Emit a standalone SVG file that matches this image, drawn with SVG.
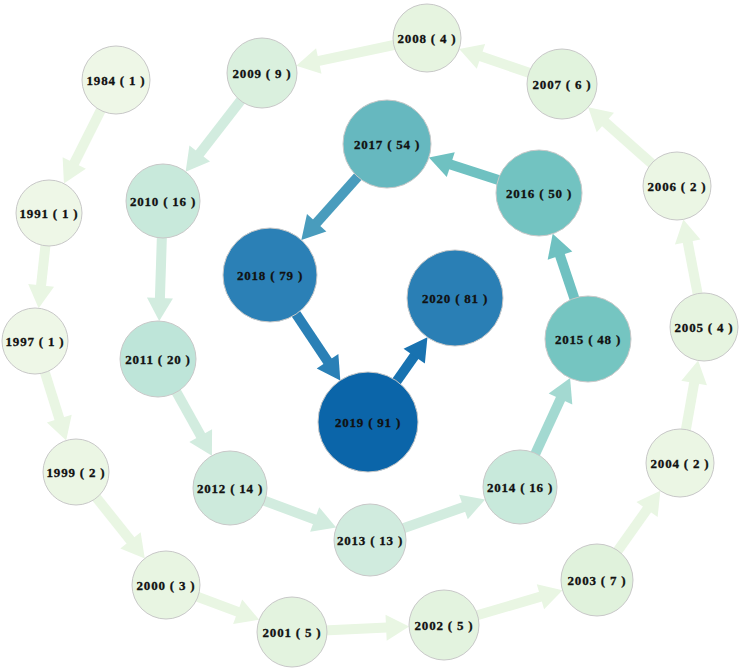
<svg xmlns="http://www.w3.org/2000/svg" width="743" height="670" viewBox="0 0 743 670">
<style>
.n circle{stroke:#c8c8c8;stroke-width:1}
.n text{font-family:"Liberation Serif","DejaVu Serif",serif;font-weight:bold;font-size:13px;letter-spacing:0.8px;text-anchor:middle;fill:#111;stroke:#111;stroke-width:0.3}
.e{fill:none;stroke-width:10}
.c1{stroke:#e9f6e3}.c2{stroke:#d2ecdf}.c3{stroke:#a3d9d1}.c4{stroke:#6fc1c1}.c5{stroke:#499cbd}.c6{stroke:#2a80b6}.c7{stroke:#1872b0}
</style>
<defs>
<marker id="m1" markerUnits="userSpaceOnUse" markerWidth="24" markerHeight="28" refX="1" refY="13" orient="auto" overflow="visible"><path d="M0,0 L23,13 L0,26 z" fill="#e9f6e3"/></marker>
<marker id="m2" markerUnits="userSpaceOnUse" markerWidth="24" markerHeight="28" refX="1" refY="13" orient="auto" overflow="visible"><path d="M0,0 L23,13 L0,26 z" fill="#d2ecdf"/></marker>
<marker id="m3" markerUnits="userSpaceOnUse" markerWidth="24" markerHeight="28" refX="1" refY="13" orient="auto" overflow="visible"><path d="M0,0 L23,13 L0,26 z" fill="#a3d9d1"/></marker>
<marker id="m4" markerUnits="userSpaceOnUse" markerWidth="24" markerHeight="28" refX="1" refY="13" orient="auto" overflow="visible"><path d="M0,0 L23,13 L0,26 z" fill="#6fc1c1"/></marker>
<marker id="m5" markerUnits="userSpaceOnUse" markerWidth="24" markerHeight="28" refX="1" refY="13" orient="auto" overflow="visible"><path d="M0,0 L23,13 L0,26 z" fill="#499cbd"/></marker>
<marker id="m6" markerUnits="userSpaceOnUse" markerWidth="24" markerHeight="28" refX="1" refY="13" orient="auto" overflow="visible"><path d="M0,0 L23,13 L0,26 z" fill="#2a80b6"/></marker>
<marker id="m7" markerUnits="userSpaceOnUse" markerWidth="24" markerHeight="28" refX="1" refY="13" orient="auto" overflow="visible"><path d="M0,0 L23,13 L0,26 z" fill="#1872b0"/></marker>
</defs>
<rect width="743" height="670" fill="#fff"/>
<g id="connectors">
<path class="e c1" marker-end="url(#m1)" d="M116,80 L73.8,163.9"/>
<path class="e c1" marker-end="url(#m1)" d="M49,213 L41,286.3"/>
<path class="e c1" marker-end="url(#m1)" d="M35,341 L59.6,419.5"/>
<path class="e c1" marker-end="url(#m1)" d="M76,472 L131.1,541.2"/>
<path class="e c1" marker-end="url(#m1)" d="M166,585 L238.6,612.1"/>
<path class="e c1" marker-end="url(#m1)" d="M292,632 L387.1,627.6"/>
<path class="e c1" marker-end="url(#m1)" d="M444,625 L541.4,596.4"/>
<path class="e c1" marker-end="url(#m1)" d="M597,580 L647.6,508.7"/>
<path class="e c1" marker-end="url(#m1)" d="M680,463 L694.3,382.1"/>
<path class="e c1" marker-end="url(#m1)" d="M704,327 L687.5,241"/>
<path class="e c1" marker-end="url(#m1)" d="M677,186 L604.6,121.8"/>
<path class="e c1" marker-end="url(#m1)" d="M562,84 L480,56.1"/>
<path class="e c1" marker-end="url(#m1)" d="M427,38 L317.8,61.2"/>
<path class="e c2" marker-end="url(#m2)" d="M262,73 L199.1,154.3"/>
<path class="e c2" marker-end="url(#m2)" d="M163,201 L159.9,299"/>
<path class="e c2" marker-end="url(#m2)" d="M158,359 L201.2,436.5"/>
<path class="e c2" marker-end="url(#m2)" d="M230,488 L315.6,519.8"/>
<path class="e c2" marker-end="url(#m2)" d="M370,540 L464.4,506.7"/>
<path class="e c3" marker-end="url(#m3)" d="M520,487 L560.9,398.1"/>
<path class="e c4" marker-end="url(#m4)" d="M588,339 L559.7,254.6"/>
<path class="e c4" marker-end="url(#m4)" d="M539,193 L449.8,164.2"/>
<path class="e c5" marker-end="url(#m5)" d="M387,144 L316,223.5"/>
<path class="e c6" marker-end="url(#m6)" d="M270,275 L328.1,362.1"/>
<path class="e c7" marker-end="url(#m7)" d="M368,422 L414.8,355.3"/>
</g>
<g id="n1984" class="n"><circle cx="116" cy="80" r="34" fill="#eef7e7"/><text x="116" y="84.5">1984 ( 1 )</text></g>
<g id="n1991" class="n"><circle cx="49" cy="213" r="33" fill="#eef7e7"/><text x="49" y="217.5">1991 ( 1 )</text></g>
<g id="n1997" class="n"><circle cx="35" cy="341" r="33" fill="#eef7e7"/><text x="35" y="345.5">1997 ( 1 )</text></g>
<g id="n1999" class="n"><circle cx="76" cy="472" r="33" fill="#ebf6e4"/><text x="76" y="476.5">1999 ( 2 )</text></g>
<g id="n2000" class="n"><circle cx="166" cy="585" r="34" fill="#e8f5e2"/><text x="166" y="589.5">2000 ( 3 )</text></g>
<g id="n2001" class="n"><circle cx="292" cy="632" r="35" fill="#e3f3df"/><text x="292" y="636.5">2001 ( 5 )</text></g>
<g id="n2002" class="n"><circle cx="444" cy="625" r="35" fill="#e3f3df"/><text x="444" y="629.5">2002 ( 5 )</text></g>
<g id="n2003" class="n"><circle cx="597" cy="580" r="36" fill="#e0f2dc"/><text x="597" y="584.5">2003 ( 7 )</text></g>
<g id="n2004" class="n"><circle cx="680" cy="463" r="34" fill="#ebf6e4"/><text x="680" y="467.5">2004 ( 2 )</text></g>
<g id="n2005" class="n"><circle cx="704" cy="327" r="34" fill="#e6f4e0"/><text x="704" y="331.5">2005 ( 4 )</text></g>
<g id="n2006" class="n"><circle cx="677" cy="186" r="34" fill="#ebf6e4"/><text x="677" y="190.5">2006 ( 2 )</text></g>
<g id="n2007" class="n"><circle cx="562" cy="84" r="35" fill="#e1f3dd"/><text x="562" y="88.5">2007 ( 6 )</text></g>
<g id="n2008" class="n"><circle cx="427" cy="38" r="34" fill="#e6f4e0"/><text x="427" y="42.5">2008 ( 4 )</text></g>
<g id="n2009" class="n"><circle cx="262" cy="73" r="35" fill="#daf0de"/><text x="262" y="77.5">2009 ( 9 )</text></g>
<g id="n2010" class="n"><circle cx="163" cy="201" r="37" fill="#c8e9db"/><text x="163" y="205.5">2010 ( 16 )</text></g>
<g id="n2011" class="n"><circle cx="158" cy="359" r="38" fill="#bee5d9"/><text x="158" y="363.5">2011 ( 20 )</text></g>
<g id="n2012" class="n"><circle cx="230" cy="488" r="37" fill="#cdeadc"/><text x="230" y="492.5">2012 ( 14 )</text></g>
<g id="n2013" class="n"><circle cx="370" cy="540" r="36" fill="#d0ebde"/><text x="370" y="544.5">2013 ( 13 )</text></g>
<g id="n2014" class="n"><circle cx="520" cy="487" r="37" fill="#c8e9db"/><text x="520" y="491.5">2014 ( 16 )</text></g>
<g id="n2015" class="n"><circle cx="588" cy="339" r="43" fill="#75c5c1"/><text x="588" y="343.5">2015 ( 48 )</text></g>
<g id="n2016" class="n"><circle cx="539" cy="193" r="43" fill="#72c3c1"/><text x="539" y="197.5">2016 ( 50 )</text></g>
<g id="n2017" class="n"><circle cx="387" cy="144" r="44" fill="#66b8bf"/><text x="387" y="148.5">2017 ( 54 )</text></g>
<g id="n2018" class="n"><circle cx="270" cy="275" r="47" fill="#2b80b6"/><text x="270" y="279.5">2018 ( 79 )</text></g>
<g id="n2019" class="n"><circle cx="368" cy="422" r="50" fill="#0b65a9"/><text x="368" y="426.5">2019 ( 91 )</text></g>
<g id="n2020" class="n"><circle cx="455" cy="298" r="48" fill="#2a7fb5"/><text x="455" y="302.5">2020 ( 81 )</text></g>
</svg>
